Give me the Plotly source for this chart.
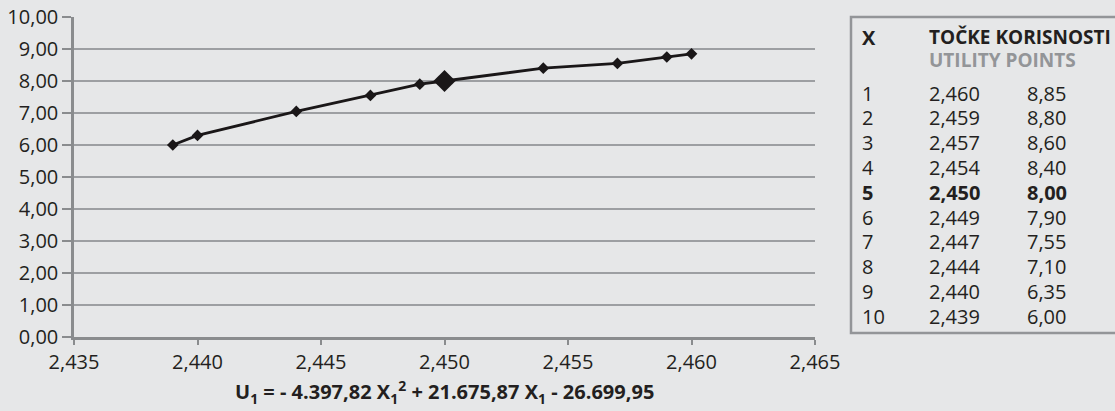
import plotly.graph_objects as go

# ---- data ----
table_rank = [1, 2, 3, 4, 5, 6, 7, 8, 9, 10]
table_x = [2.460, 2.459, 2.457, 2.454, 2.450, 2.449, 2.447, 2.444, 2.440, 2.439]
table_u = [8.85, 8.80, 8.60, 8.40, 8.00, 7.90, 7.55, 7.10, 6.35, 6.00]
# values
plot_x = [2.439, 2.440, 2.444, 2.447, 2.449, 2.450, 2.454, 2.457, 2.459, 2.460]
plot_u = [6.00, 6.30, 7.05, 7.55, 7.90, 8.00, 8.40, 8.55, 8.75, 8.85]
highlight_rank = 5
x_ticks = [2.435, 2.440, 2.445, 2.450, 2.455, 2.460, 2.465]
y_ticks = [0, 1, 2, 3, 4, 5, 6, 7, 8, 9, 10]
header_x = "X"
header_u = "TOČKE KORISNOSTI"
header_u_en = "UTILITY POINTS"
equation = ("U<sub>1</sub> = - 4.397,82 X<sub>1</sub><sup>2</sup> + 21.675,87 "
            "X<sub>1</sub> - 26.699,95")

# ---- layout geometry ----
W, H = 1115, 411
L, R, T, B = 74, 815, 17, 337
FONT = "Open Sans"
TXT = "#231f20"
BG = "#e6e7e8"


def px(x):
    return (x - L) / (R - L)


def py(y):
    return (B - y) / (B - T)


fig = go.Figure()
fig.add_trace(go.Scatter(
    x=plot_x, y=plot_u, mode="lines+markers",
    line=dict(color="#1a1718", width=2.8),
    marker=dict(symbol="diamond", size=9, color="#1a1718"),
    hoverinfo="x+y", showlegend=False,
))
hi = table_rank.index(highlight_rank)
fig.add_trace(go.Scatter(
    x=[table_x[hi]], y=[table_u[hi]], mode="markers",
    marker=dict(symbol="diamond", size=17, color="#1a1718"),
    showlegend=False,
))

fig.update_layout(
    width=W, height=H,
    margin=dict(l=L, r=W - R, t=T, b=H - B, pad=0, autoexpand=False),
    paper_bgcolor=BG, plot_bgcolor=BG,
    separators=",.",
    font=dict(family=FONT, size=20, color=TXT),
    xaxis=dict(
        range=[2.435, 2.465], tickvals=x_ticks, tickformat=".3f",
        showgrid=False, zeroline=False, automargin=False,
        showline=True, linecolor="#8a8c8e", linewidth=2.5,
        ticks="outside", ticklen=5, tickwidth=1.5, tickcolor="#8a8c8e",
        tickfont=dict(size=20, color=TXT),
    ),
    yaxis=dict(
        range=[0, 10], tickvals=y_ticks, tickformat=".2f",
        showgrid=True, gridcolor="#9d9fa2", gridwidth=1.5,
        zeroline=False, automargin=False,
        showline=True, linecolor="#8a8c8e", linewidth=2.5,
        ticks="outside", ticklen=9, tickwidth=1.5, tickcolor="#8a8c8e",
        tickfont=dict(size=20, color=TXT),
    ),
)

# table box
fig.add_shape(type="rect", xref="paper", yref="paper",
              x0=px(851), x1=px(1140), y0=py(333), y1=py(17),
              line=dict(color="#939598", width=2.5), fillcolor="rgba(0,0,0,0)",
              layer="above")

col_x = [860, 927, 1025]
ann = []
ann.append(dict(x=px(col_x[0]), y=py(37), text="<b>%s</b>" % header_x))
ann.append(dict(x=px(col_x[1]), y=py(37), text="<b>%s</b>" % header_u,
                font=dict(family=FONT, size=19, color=TXT)))
ann.append(dict(x=px(col_x[1]), y=py(60), text="<b>%s</b>" % header_u_en,
                font=dict(family=FONT, size=19, color="#939598")))
row_y0, row_dy = 93, 24.8
for i, (r, xv, uv) in enumerate(zip(table_rank, table_x, table_u)):
    yy = py(row_y0 + i * row_dy)
    cells = [str(r), ("%.3f" % xv).replace(".", ","), ("%.2f" % uv).replace(".", ",")]
    for cx, c in zip(col_x, cells):
        t = "<b>%s</b>" % c if r == highlight_rank else c
        ann.append(dict(x=px(cx), y=yy, text=t))

for a in ann:
    a.setdefault("font", dict(family=FONT, size=20, color=TXT))
    fig.add_annotation(xref="paper", yref="paper", xanchor="left", yanchor="middle",
                       showarrow=False, **a)

fig.add_annotation(xref="paper", yref="paper", x=px(445), y=py(392),
                   xanchor="center", yanchor="middle", showarrow=False,
                   text="<b>%s</b>" % equation,
                   font=dict(family=FONT, size=20, color=TXT))

fig.write_html(
    "out.html",
    config={"displayModeBar": False},
    post_script=("document.body.style.margin='0';"
                 "document.body.style.background='%s';" % BG),
)
